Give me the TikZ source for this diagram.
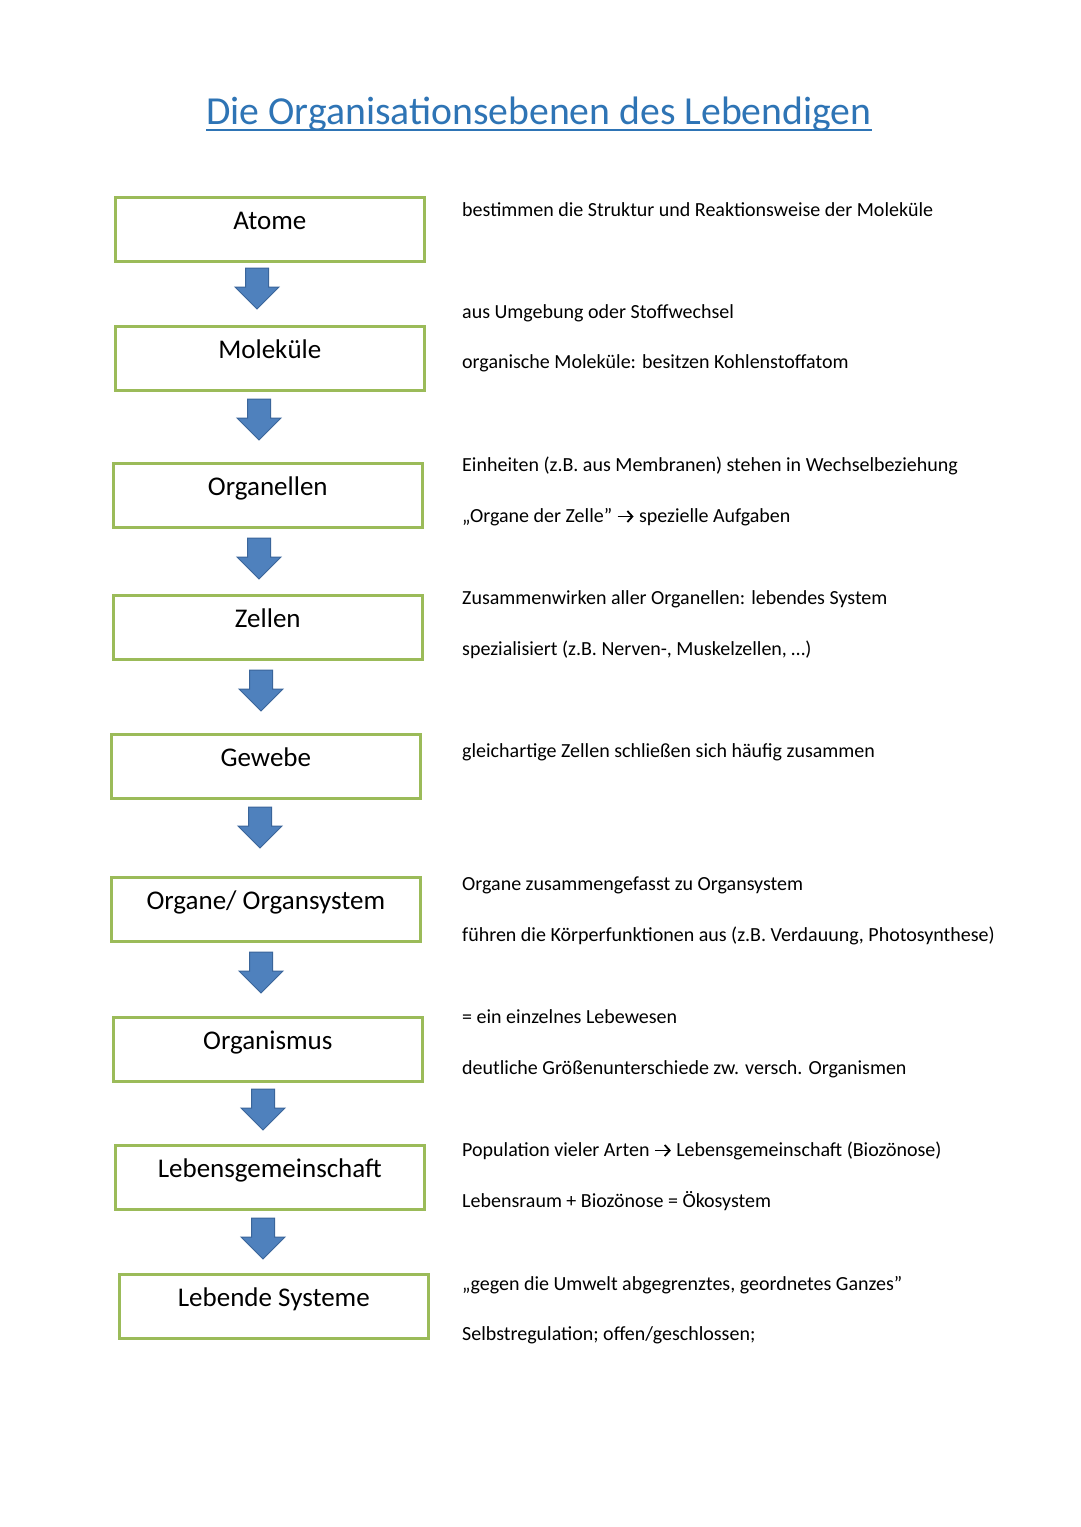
\documentclass[tikz,border=0pt]{standalone}
\usepackage{fontspec}
\setmainfont{Carlito}
\usetikzlibrary{arrows.meta}
\definecolor{boxgreen}{HTML}{9BBB59}
\definecolor{arrowfill}{HTML}{4F81BD}
\definecolor{arrowline}{HTML}{3A659A}
\definecolor{titleblue}{HTML}{2E74B5}
\newcommand{\rarr}{\tikz[baseline={(0pt,-5.5pt)}]\draw[black, line width=1.8pt, line cap=butt, -{Straight Barb[length=5pt,width=11pt,line width=1.8pt]}] (0pt,0pt) -- (16pt,0pt);}
\tikzset{
  levelbox/.style={draw=boxgreen, line width=2.6pt, minimum width=309pt, minimum height=64pt, inner sep=0pt},
  boxlabel/.style={anchor=base, font=\fontsize{27}{31}\selectfont, inner sep=0pt},
  note/.style={anchor=base west, font=\fontsize{20}{24}\selectfont, inner sep=0pt},
  downarrow/.style={fill=arrowfill, draw=arrowline, line width=1pt, line join=miter}
}
\newcommand{\blockarrow}[3]{% name, x center, top y
  \path (#2,#3) coordinate (#1);
  \draw[downarrow] (#2-11.5,#3) -- (#2+11.5,#3) -- (#2+11.5,#3+19) -- (#2+22,#3+19) -- (#2,#3+41) -- (#2-22,#3+19) -- (#2-11.5,#3+19) -- cycle;
}
\begin{document}
\begin{tikzpicture}[x=1pt,y=-1pt]
\useasboundingbox (0,0) rectangle (1080,1527);
\fill[white] (0,0) rectangle (1080,1527);

\node[anchor=base, font=\fontsize{39.7}{44}\selectfont, text=titleblue, inner sep=0pt] (title) at (539,124) {Die Organisationsebenen des Lebendigen};
\draw[titleblue, line width=2.6pt] ([yshift=-6pt]title.base west) -- ([yshift=-6pt]title.base east);

% boxes
\node[levelbox, anchor=north west] (b1) at (114,196) {};
\node[levelbox, anchor=north west] (b2) at (114,325) {};
\node[levelbox, anchor=north west] (b3) at (112,462) {};
\node[levelbox, anchor=north west] (b4) at (112,594) {};
\node[levelbox, anchor=north west] (b5) at (110,733) {};
\node[levelbox, anchor=north west] (b6) at (110,876) {};
\node[levelbox, anchor=north west] (b7) at (112,1016) {};
\node[levelbox, anchor=north west] (b8) at (114,1144) {};
\node[levelbox, anchor=north west] (b9) at (118,1273) {};

\node[boxlabel] (l1) at ([yshift=-33pt]b1.north) {Atome};
\node[boxlabel] (l2) at ([yshift=-33pt]b2.north) {Moleküle};
\node[boxlabel] (l3) at ([yshift=-33pt]b3.north) {Organellen};
\node[boxlabel] (l4) at ([yshift=-33pt]b4.north) {Zellen};
\node[boxlabel] (l5) at ([yshift=-33pt]b5.north) {Gewebe};
\node[boxlabel] (l6) at ([yshift=-33pt]b6.north) {Organe/ Organsystem};
\node[boxlabel] (l7) at ([yshift=-33pt]b7.north) {Organismus};
\node[boxlabel] (l8) at ([yshift=-33pt]b8.north) {Lebensgemeinschaft};
\node[boxlabel] (l9) at ([yshift=-33pt]b9.north) {Lebende Systeme};

% arrows
\blockarrow{a1}{257}{268}
\blockarrow{a2}{259}{399}
\blockarrow{a3}{259}{538}
\blockarrow{a4}{261}{670}
\blockarrow{a5}{260}{807}
\blockarrow{a6}{261}{952}
\blockarrow{a7}{263}{1089}
\blockarrow{a8}{263}{1218}

% notes
\node[note] (n1) at (462,216) {bestimmen die Struktur und Reaktionsweise der Moleküle};
\node[note] (n2) at (462,318) {aus Umgebung oder Stoffwechsel};
\node[note] (n3) at (462,368) {organische Moleküle: besitzen Kohlenstoffatom};
\node[note] (n4) at (462,471) {Einheiten (z.B. aus Membranen) stehen in Wechselbeziehung};
\node[note] (n5) at (462,522) {„Organe der Zelle” \rarr{} spezielle Aufgaben};
\node[note] (n6) at (462,604) {Zusammenwirken aller Organellen: lebendes System};
\node[note] (n7) at (462,655) {spezialisiert (z.B. Nerven-, Muskelzellen, …)};
\node[note] (n8) at (462,757) {gleichartige Zellen schließen sich häufig zusammen};
\node[note] (n9) at (462,890) {Organe zusammengefasst zu Organsystem};
\node[note] (n10) at (462,941) {führen die Körperfunktionen aus (z.B. Verdauung, Photosynthese)};
\node[note] (n11) at (462,1023) {= ein einzelnes Lebewesen};
\node[note] (n12) at (462,1074) {deutliche Größenunterschiede zw. versch. Organismen};
\node[note] (n13) at (462,1156) {Population vieler Arten \rarr{} Lebensgemeinschaft (Biozönose)};
\node[note] (n14) at (462,1207) {Lebensraum + Biozönose = Ökosystem};
\node[note] (n15) at (462,1290) {„gegen die Umwelt abgegrenztes, geordnetes Ganzes”};
\node[note] (n16) at (462,1340) {Selbstregulation; offen/geschlossen;};
\end{tikzpicture}
\end{document}
